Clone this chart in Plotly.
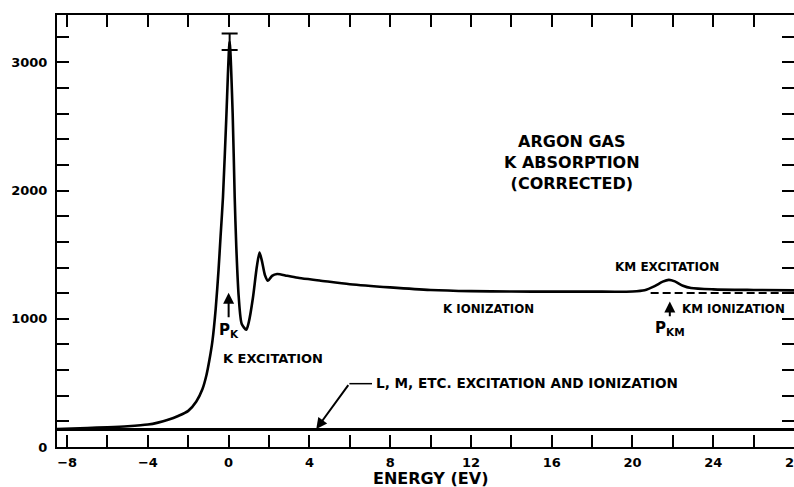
import plotly.graph_objects as go

# ---- data ----
energy = [-8.5, -7, -6, -5, -4, -3.5, -3, -2.5, -2, -1.6, -1.3, -1.1, -0.95, -0.8,
          -0.64, -0.5, -0.4, -0.28, -0.12, 0.05, 0.2, 0.3, 0.38, 0.5, 0.65, 0.875,
          1.0, 1.2, 1.4, 1.53, 1.65, 1.8, 1.95, 2.15, 2.4, 2.9, 3.5, 4.5, 6, 8, 10,
          12, 14, 16, 18, 20, 20.6, 21.1, 21.5, 21.8, 22.1, 22.5, 22.9, 24, 26, 28]
absorption = [140, 148, 154, 162, 175, 190, 212, 242, 282, 355, 450, 560, 680, 830,
              1080, 1380, 1640, 1950, 2550, 3160, 2600, 1950, 1560, 1170, 960, 915,
              975, 1160, 1410, 1517, 1450, 1340, 1297, 1335, 1350, 1336, 1318, 1299,
              1270, 1245, 1225, 1216, 1213, 1212, 1212, 1213, 1222, 1255, 1290, 1304,
              1292, 1258, 1240, 1230, 1225, 1222]

background_energy = [-8.5, 28]
background_level = [136, 136]

km_ion_energy = [20.9, 28]
km_ion_level = [1202, 1202]

peak_energy = [0.05]
peak_value = [3160]
peak_err_plus = [66]
peak_err_minus = [64]

x_tickvals = [-8, -6, -4, -2, 0, 2, 4, 6, 8, 10, 12, 14, 16, 18, 20, 22, 24, 26, 28]
x_ticktext = ["\u22128", "", "\u22124", "", "0", "", "4", "", "8", "", "12", "", "16", "",
              "20", "", "24", "", "28"]
y_tickvals = [0, 200, 400, 600, 800, 1000, 1200, 1400, 1600, 1800, 2000, 2200, 2400,
              2600, 2800, 3000, 3200]
y_ticktext = ["0", "", "", "", "", "1000", "", "", "", "", "2000", "", "", "", "", "3000", ""]

FONT = "DejaVu Sans"

fig = go.Figure()

fig.add_trace(go.Scatter(x=background_energy, y=background_level, mode="lines",
                         line=dict(color="black", width=3), hoverinfo="skip",
                         showlegend=False))
fig.add_trace(go.Scatter(x=km_ion_energy, y=km_ion_level, mode="lines",
                         line=dict(color="black", width=2, dash="8px,4px"),
                         hoverinfo="skip", showlegend=False))
fig.add_trace(go.Scatter(x=energy, y=absorption, mode="lines",
                         line=dict(color="black", width=2.6, shape="spline", smoothing=0.7),
                         showlegend=False))
fig.add_trace(go.Scatter(x=peak_energy, y=peak_value, mode="markers",
                         marker=dict(size=1, color="black"),
                         error_y=dict(type="data", symmetric=False, array=peak_err_plus,
                                      arrayminus=peak_err_minus, width=8, thickness=2,
                                      color="black"),
                         showlegend=False))

bold = dict(family=FONT, color="black", weight="bold")

def txt(x, y, s, size, xanchor="center"):
    fig.add_annotation(x=x, y=y, text=s, showarrow=False, xanchor=xanchor,
                       yanchor="middle", font=dict(size=size, **bold))

def arrow(x, y, ax, ay):
    fig.add_annotation(x=x, y=y, ax=ax, ay=ay, axref="x", ayref="y", text="",
                       showarrow=True, arrowhead=2, arrowsize=1.1, arrowwidth=2,
                       arrowcolor="black")

fig.add_annotation(x=17.0, y=2217, text="ARGON GAS<br>K ABSORPTION<br>(CORRECTED)",
                   showarrow=False, xanchor="center", yanchor="middle",
                   font=dict(size=16, **bold))
txt(21.72, 1407, "KM EXCITATION", 12)
txt(12.85, 1080, "K IONIZATION", 11.8)
txt(24.98, 1080, "KM IONIZATION", 11.8)
txt(2.2, 690, "K EXCITATION", 13)
txt(7.2, 502, "L, M, ETC. EXCITATION AND IONIZATION", 13.6, xanchor="left")
txt(0.02, 905, "P<sub>K</sub>", 15)
txt(21.86, 928, "P<sub>KM</sub>", 15)

arrow(0, 1203, 0, 1000)
arrow(21.85, 1135, 21.85, 1008)
arrow(4.34, 140, 5.98, 494)
fig.add_shape(type="line", x0=5.98, y0=494, x1=7.1, y1=494, xref="x", yref="y",
              line=dict(color="black", width=1.5))

fig.add_annotation(x=10.0, y=0, xref="x", yref="paper", yshift=-31, text="ENERGY (EV)",
                   showarrow=False, xanchor="center", yanchor="middle",
                   font=dict(size=16, **bold))

fig.update_xaxes(range=[-8.5, 28], tickmode="array", tickvals=x_tickvals,
                 ticktext=x_ticktext, ticks="inside", ticklen=12, tickwidth=1.5,
                 tickcolor="black", showline=True, linecolor="black", linewidth=2,
                 mirror="ticks", showgrid=False, zeroline=False, automargin=False,
                 ticklabeloverflow="allow",
                 tickfont=dict(size=13, **bold), ticklabelstandoff=2)
fig.update_yaxes(range=[0, 3370], tickmode="array", tickvals=y_tickvals,
                 ticktext=y_ticktext, ticks="inside", ticklen=12, tickwidth=1.5,
                 tickcolor="black", showline=True, linecolor="black", linewidth=2,
                 mirror="ticks", showgrid=False, zeroline=False, automargin=False,
                 tickfont=dict(size=13, **bold), ticklabelstandoff=5)

fig.update_layout(width=794, height=487, margin=dict(l=57, r=0, t=15, b=40, autoexpand=False),
                  paper_bgcolor="white", plot_bgcolor="white",
                  font=dict(family=FONT, color="black"))

fig.write_html("out.html", config={"displayModeBar": False},
               post_script="document.body.style.margin='0';document.body.style.overflow='hidden';")
